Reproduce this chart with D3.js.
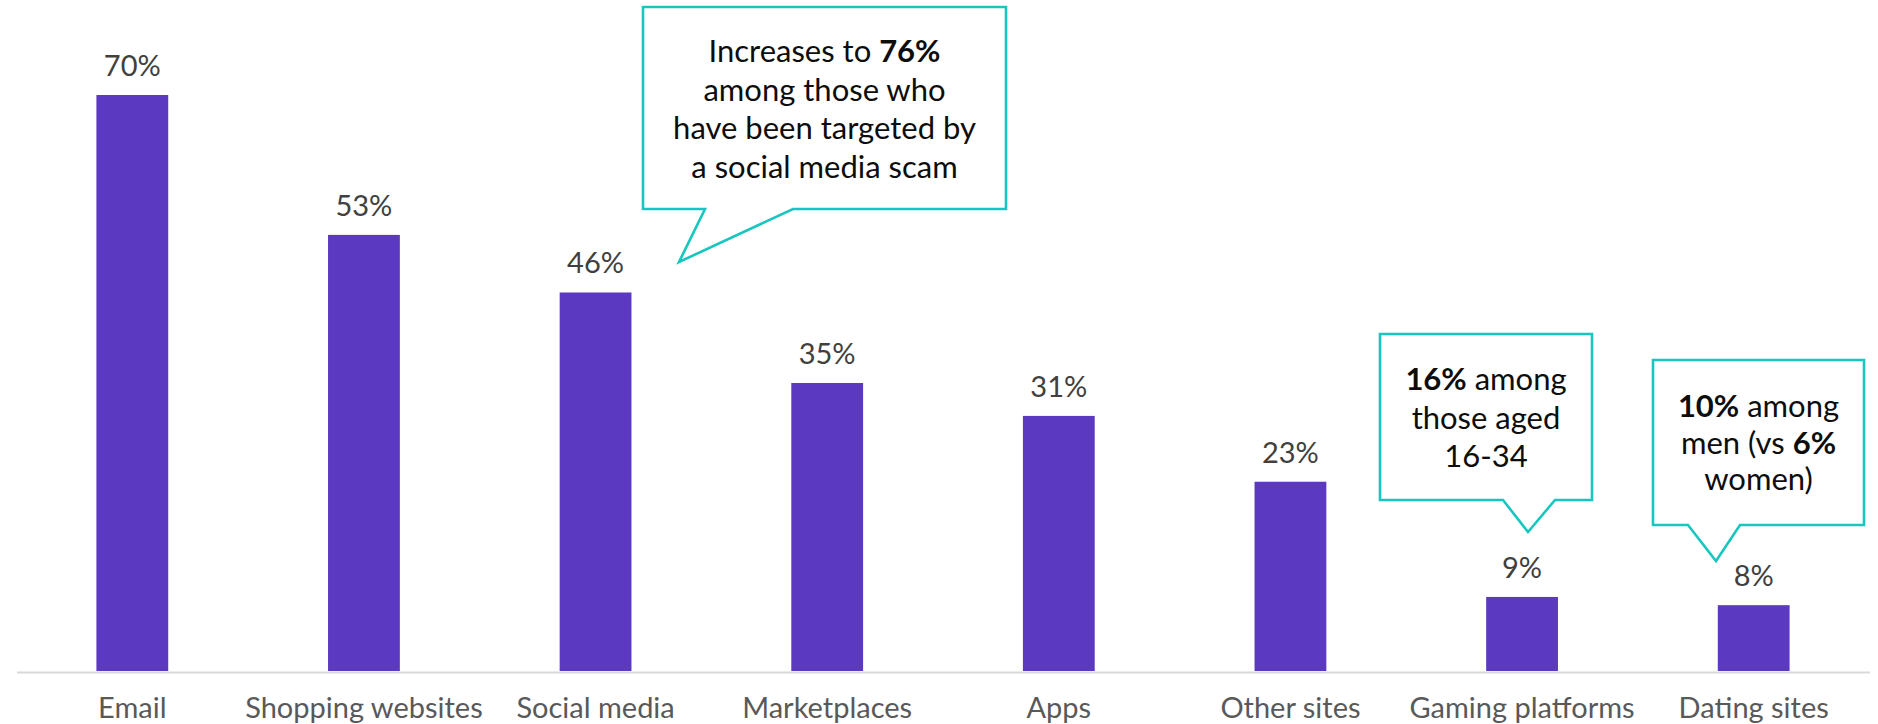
<!DOCTYPE html>
<html>
<head>
<meta charset="utf-8">
<script src="https://cdn.jsdelivr.net/npm/d3@7/dist/d3.min.js"></script>
<style>
  html, body { margin: 0; padding: 0; background: #ffffff; }
  svg { display: block; }
</style>
</head>
<body>
<svg id="chart" width="1878" height="724"></svg>
<script>
// Where people encountered scams, share of respondents (%)
const categories = ["Email", "Shopping websites", "Social media", "Marketplaces",
                    "Apps", "Other sites", "Gaming platforms", "Dating sites"];
const values = [70, 53, 46, 35, 31, 23, 9, 8];

// Callout notes: each line is a list of [text, isBold] runs
const noteSocial = [
  [["Increases to ", false], ["76%", true]],
  [["among those who", false]],
  [["have been targeted by", false]],
  [["a social media scam", false]]
];
const noteGaming = [
  [["16%", true], [" among", false]],
  [["those aged", false]],
  [["16-34", false]]
];
const noteDating = [
  [["10%", true], [" among", false]],
  [["men (vs ", false], ["6%", true]],
  [["women)", false]]
];

const W = 1878, H = 724;
const FONT = "Lato, 'Open Sans', sans-serif";
const BAR = "#5b3ac1";
const TEAL = "#17c6bf";

const svg = d3.select("#chart");

const x = d3.scaleBand()
  .domain(categories)
  .range([16.5, 1869.5])
  .paddingInner(0.69)
  .paddingOuter(0.345)
  .align(0.5);

const y = d3.scaleLinear()
  .domain([0, 70])
  .range([671, 95]);

// Bars
svg.append("g")
  .selectAll("rect")
  .data(values)
  .join("rect")
  .attr("x", (d, i) => x(categories[i]))
  .attr("y", d => y(d))
  .attr("width", x.bandwidth())
  .attr("height", d => y(0) - y(d))
  .attr("fill", BAR);

// Value labels
svg.append("g")
  .selectAll("text")
  .data(values)
  .join("text")
  .attr("x", (d, i) => x(categories[i]) + x.bandwidth() / 2)
  .attr("y", d => y(d) - 19)
  .attr("text-anchor", "middle")
  .attr("font-family", FONT)
  .attr("font-size", 29)
  .attr("fill", "#404040")
  .text(d => d + "%");

// Category axis
const xAxis = d3.axisBottom(x).tickSize(0).tickPadding(0);
const gx = svg.append("g")
  .attr("transform", `translate(0,${y(0) + 1})`)
  .call(xAxis);
gx.select(".domain")
  .attr("stroke", "#d9d9d9")
  .attr("stroke-width", 2);
gx.selectAll(".tick text")
  .attr("dy", null)
  .attr("y", 46)
  .attr("font-family", FONT)
  .attr("font-size", 29)
  .attr("fill", "#595959");

// Speech-bubble callouts
function callout(box, lines) {
  const { left, top, right, bottom, gapL, gapR, tipX, tipY, cx, firstBaseline, lineH } = box;
  const path = [
    [left, top], [right, top], [right, bottom], [gapR, bottom],
    [tipX, tipY], [gapL, bottom], [left, bottom]
  ];
  svg.append("path")
    .attr("d", d3.line()(path) + "Z")
    .attr("fill", "#ffffff")
    .attr("stroke", TEAL)
    .attr("stroke-width", 2.6)
    .attr("stroke-linejoin", "miter");
  const t = svg.append("text")
    .attr("font-family", FONT)
    .attr("font-size", 31)
    .attr("fill", "#0d0d0d")
    .attr("text-anchor", "middle");
  lines.forEach((runs, i) => {
    const line = t.append("tspan")
      .attr("x", cx)
      .attr("y", firstBaseline + i * lineH);
    runs.forEach(([s, b]) => {
      line.append("tspan")
        .attr("font-weight", b ? "bold" : "normal")
        .text(s);
    });
  });
}

callout({ left: 643, top: 7, right: 1006, bottom: 209, gapL: 705, gapR: 793,
          tipX: 679, tipY: 262, cx: 824.5, firstBaseline: 62, lineH: 38.5 }, noteSocial);
callout({ left: 1380, top: 334, right: 1592, bottom: 500, gapL: 1503, gapR: 1555,
          tipX: 1528, tipY: 532, cx: 1486, firstBaseline: 390, lineH: 38.5 }, noteGaming);
callout({ left: 1653, top: 360, right: 1864, bottom: 525, gapL: 1688, gapR: 1740,
          tipX: 1716, tipY: 561, cx: 1758.5, firstBaseline: 417, lineH: 36.5 }, noteDating);
</script>
</body>
</html>
